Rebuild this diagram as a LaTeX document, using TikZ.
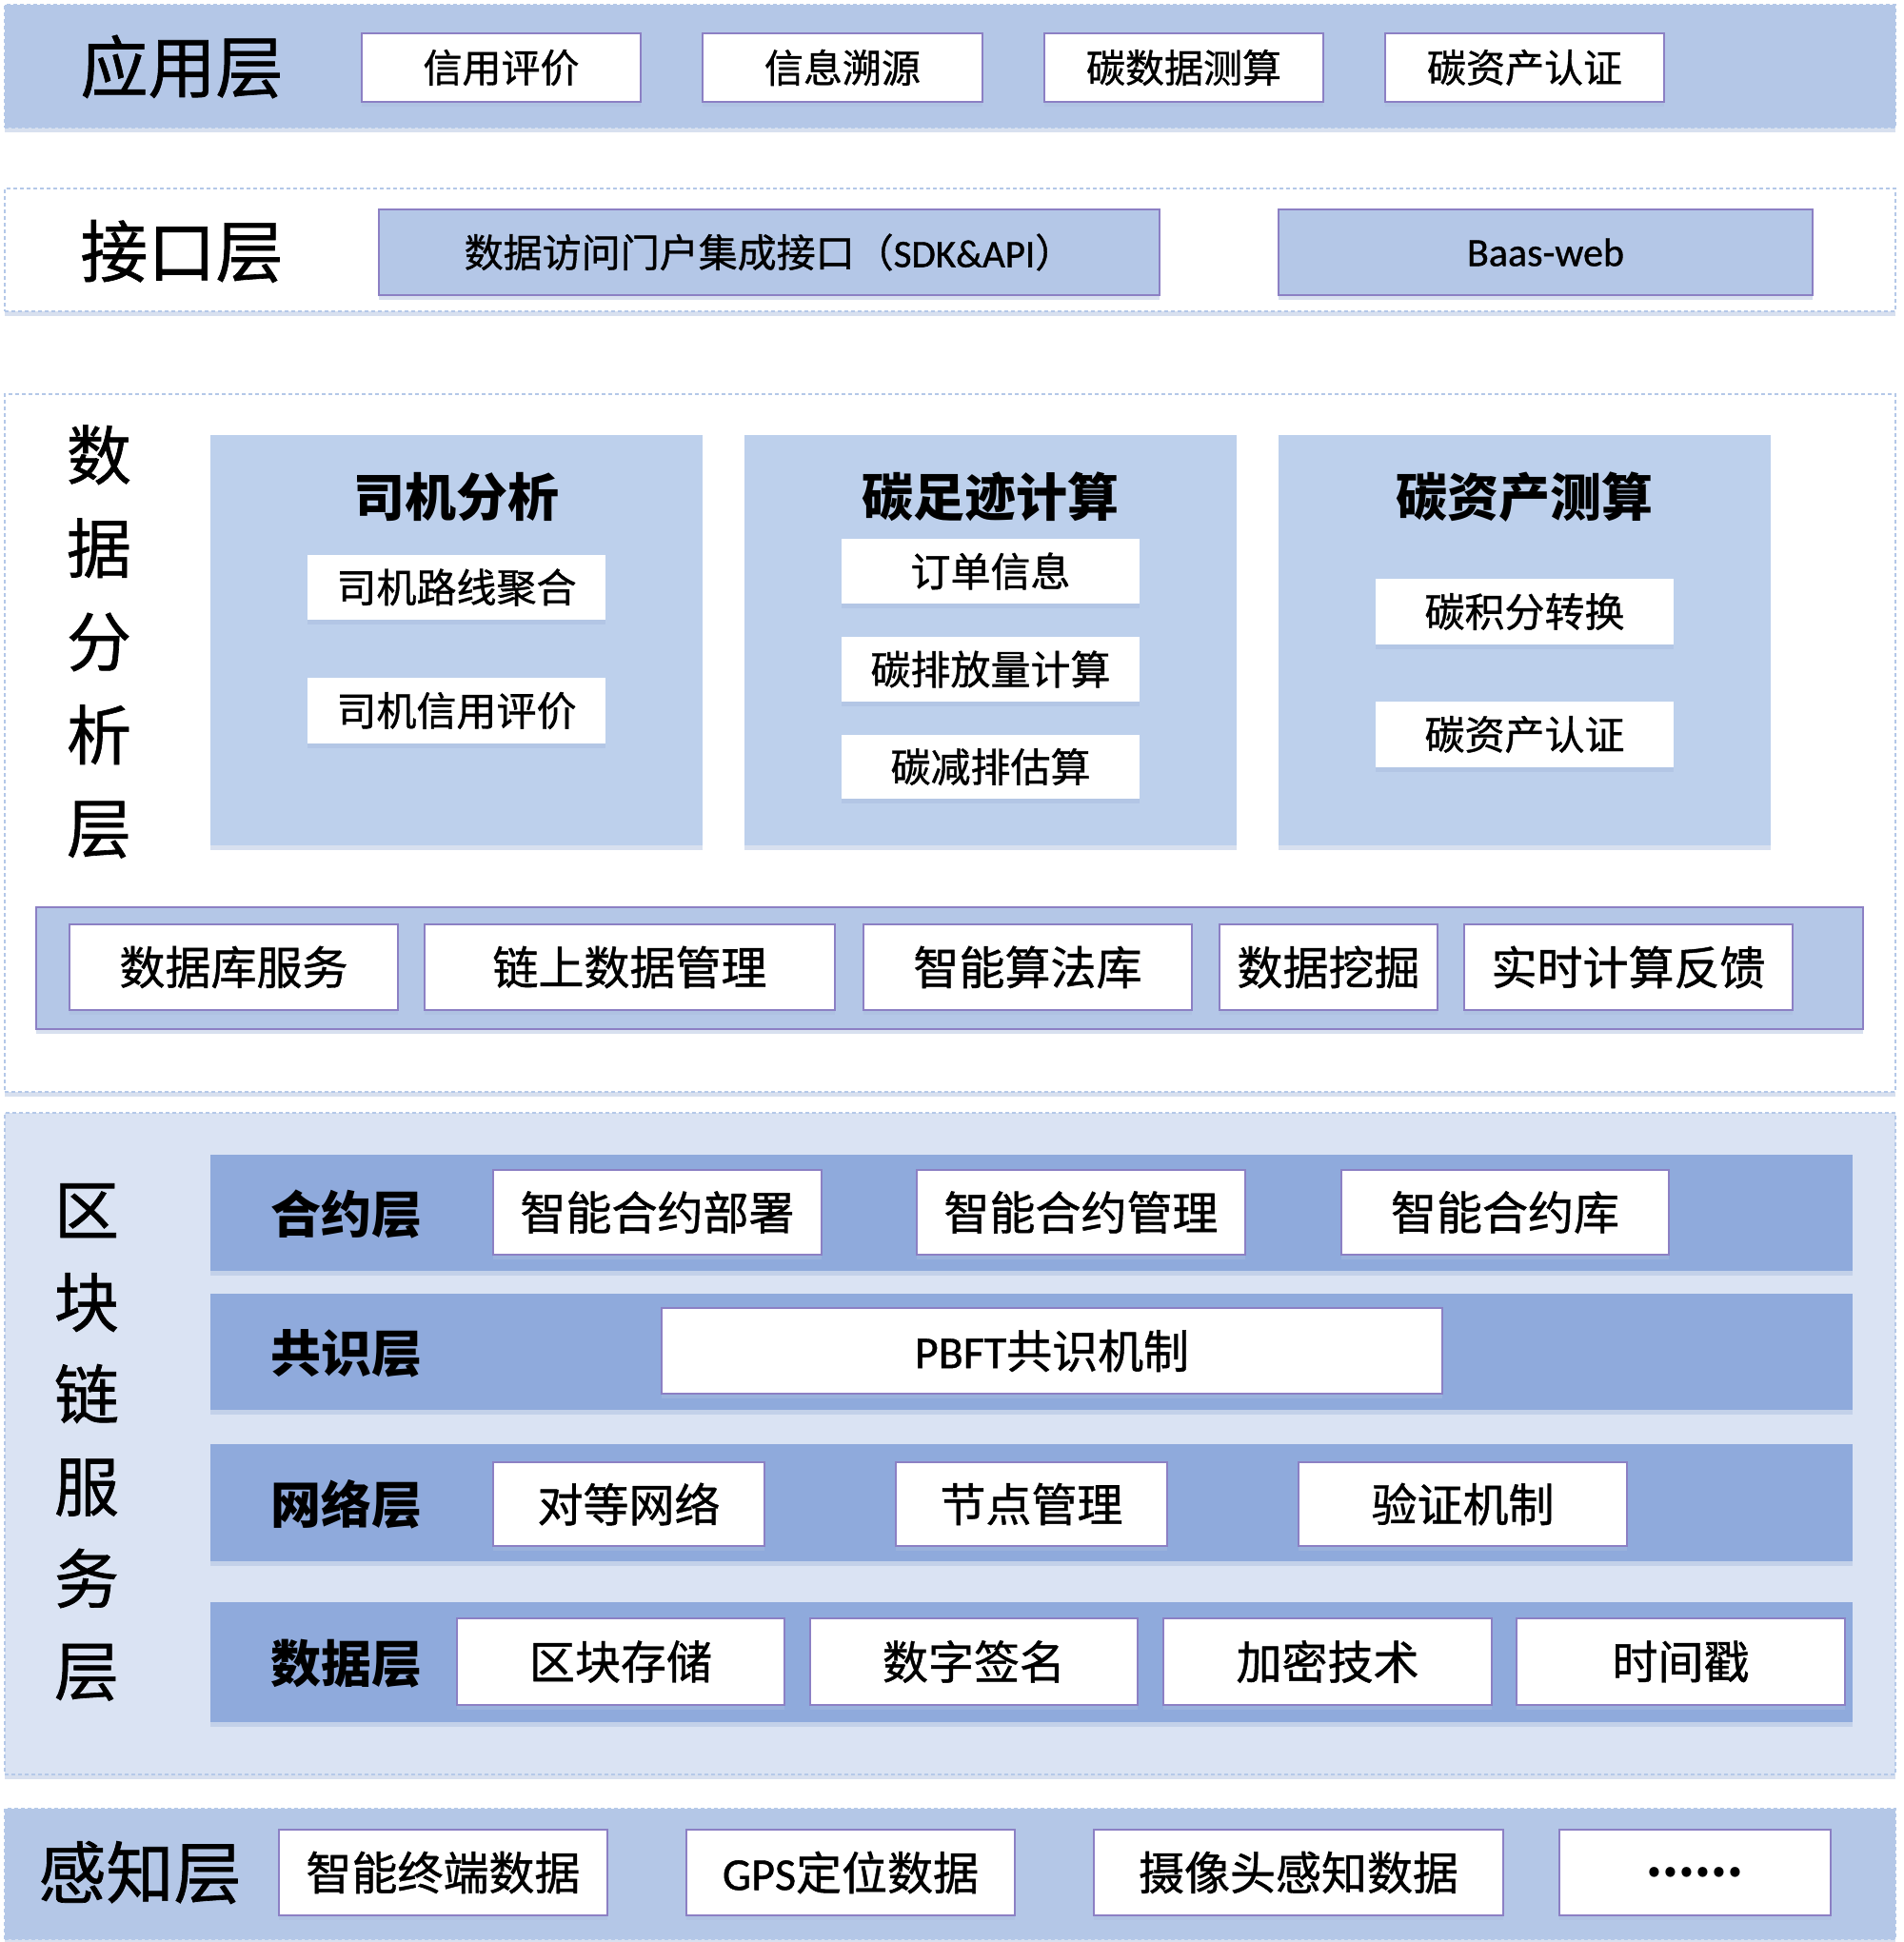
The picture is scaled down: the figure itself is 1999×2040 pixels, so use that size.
\documentclass[tikz,border=0pt]{standalone}
\usepackage{fontspec}
\setmainfont{Noto Sans CJK SC}[UprightFeatures={RawFeature={embolden=0.9}}]
\newfontfamily\lat{Carlito}[UprightFeatures={RawFeature={embolden=0.9}}]
\usetikzlibrary{shadows}
\definecolor{bandblue}{HTML}{B4C7E7}
\definecolor{panelblue}{HTML}{BDD0EC}
\definecolor{chainbg}{HTML}{DAE3F3}
\definecolor{subband}{HTML}{8FAADC}
\definecolor{boxline}{HTML}{8C80C4}
\definecolor{dashline}{HTML}{B4C8E8}
\definecolor{shadowc}{HTML}{A9BCDD}
\newcommand\bx[7]{\node[#1, minimum width={(#4-#2)*0.5pt}, minimum height={(#5-#3)*0.5pt}] (#7) at ({(#2+#4)/2},{(#3+#5)/2}) {#6};}
\tikzset{
  base/.style={inner sep=0pt, outer sep=0pt, align=center, text=black},
  sh/.style={drop shadow={shadow xshift=0pt, shadow yshift=-2.5pt, opacity=0.45, fill=shadowc}},
  layer/.style={base, draw=dashline, dash pattern=on 2pt off 1.5pt, line width=0.6pt, sh},
  whitebox/.style={base, fill=white, draw=boxline, line width=0.6pt, sh},
  plainbox/.style={base, fill=white, sh},
  bluebox/.style={base, fill=bandblue, draw=boxline, line width=0.6pt, sh},
  panel/.style={base, fill=panelblue, sh},
  subbar/.style={base, fill=subband, sh},
  big/.style={font=\fontsize{35.5}{40}\selectfont},
  title/.style={font=\fontsize{27}{32}\bfseries\selectfont},
  sublabel/.style={font=\fontsize{26.5}{30}\bfseries\selectfont},
  f24/.style={font=\fontsize{24}{28}\selectfont},
  f21/.style={font=\fontsize{21}{25}\selectfont},
  f20/.style={font=\fontsize{20.5}{24}\selectfont},
}
\begin{document}
\begin{tikzpicture}[x=0.5pt, y=-0.5pt]
\useasboundingbox[fill=white] (0,0) rectangle (1999,2040);

% ---------- layer backgrounds ----------
\bx{layer, fill=bandblue}{5}{5}{1991}{134}{}{appL}
\bx{layer, fill=white}{5}{198}{1991}{327}{}{ifL}
\bx{layer, fill=white}{5}{414}{1991}{1147}{}{daL}
\bx{layer, fill=chainbg}{5}{1169}{1991}{1864}{}{bcL}
\bx{layer, fill=bandblue}{5}{1900}{1991}{2037}{}{peL}

% ---------- application layer ----------
\node[base, big] (appT) at (191,70) {应用层};
\bx{whitebox, f20}{380}{35}{673}{107}{信用评价}{a1}
\bx{whitebox, f20}{738}{35}{1032}{107}{信息溯源}{a2}
\bx{whitebox, f20}{1097}{35}{1390}{107}{碳数据测算}{a3}
\bx{whitebox, f20}{1455}{35}{1748}{107}{碳资产认证}{a4}

% ---------- interface layer ----------
\node[base, big] (ifT) at (191,264) {接口层};
\bx{bluebox, f20}{398}{220}{1218}{310}{数据访问门户集成接口（{\lat SDK\&API}）}{i1}
\bx{bluebox, font=\fontsize{21}{25}\lat}{1343}{220}{1904}{310}{Baas-web}{i2}

% ---------- data analysis layer ----------
\node[base, font=\fontsize{34}{49}\selectfont] (daT) at (104,674) {数\\据\\分\\析\\层};
\bx{panel}{221}{457}{738}{888}{}{p1}
\bx{panel}{782}{457}{1299}{888}{}{p2}
\bx{panel}{1343}{457}{1860}{888}{}{p3}
\node[base, title] (p1t) at (479.5,522) {司机分析};
\node[base, title] (p2t) at (1040.5,522) {碳足迹计算};
\node[base, title] (p3t) at (1601.5,522) {碳资产测算};
\bx{plainbox, f21}{323}{583}{636}{651}{司机路线聚合}{p1a}
\bx{plainbox, f21}{323}{712}{636}{781}{司机信用评价}{p1b}
\bx{plainbox, f21}{884}{566}{1197}{634}{订单信息}{p2a}
\bx{plainbox, f21}{884}{669}{1197}{737}{碳排放量计算}{p2b}
\bx{plainbox, f21}{884}{772}{1197}{839}{碳减排估算}{p2c}
\bx{plainbox, f21}{1445}{608}{1758}{677}{碳积分转换}{p3a}
\bx{plainbox, f21}{1445}{737}{1758}{806}{碳资产认证}{p3b}

\bx{bluebox}{38}{953}{1957}{1081}{}{svc}
\bx{whitebox, f24}{73}{971}{418}{1061}{数据库服务}{s1}
\bx{whitebox, f24}{446}{971}{877}{1061}{链上数据管理}{s2}
\bx{whitebox, f24}{907}{971}{1252}{1061}{智能算法库}{s3}
\bx{whitebox, f24}{1281}{971}{1510}{1061}{数据挖掘}{s4}
\bx{whitebox, f24}{1538}{971}{1883}{1061}{实时计算反馈}{s5}

% ---------- blockchain service layer ----------
\node[base, font=\fontsize{34}{48.4}\selectfont] (bcT) at (91,1515) {区\\块\\链\\服\\务\\层};

\bx{subbar}{221}{1213}{1946}{1335}{}{b1}
\node[base, sublabel] (b1t) at (364,1276) {合约层};
\bx{whitebox, f24}{518}{1229}{863}{1318}{智能合约部署}{b1a}
\bx{whitebox, f24}{963}{1229}{1308}{1318}{智能合约管理}{b1b}
\bx{whitebox, f24}{1409}{1229}{1753}{1318}{智能合约库}{b1c}

\bx{subbar}{221}{1359}{1946}{1481}{}{b2}
\node[base, sublabel] (b2t) at (364,1422) {共识层};
\bx{whitebox, f24}{695}{1374}{1515}{1464}{{\lat PBFT}共识机制}{b2a}

\bx{subbar}{221}{1517}{1946}{1640}{}{b3}
\node[base, sublabel] (b3t) at (364,1580) {网络层};
\bx{whitebox, f24}{518}{1536}{803}{1624}{对等网络}{b3a}
\bx{whitebox, f24}{941}{1536}{1226}{1624}{节点管理}{b3b}
\bx{whitebox, f24}{1364}{1536}{1709}{1624}{验证机制}{b3c}

\bx{subbar}{221}{1683}{1946}{1809}{}{b4}
\node[base, sublabel] (b4t) at (364,1748) {数据层};
\bx{whitebox, f24}{480}{1700}{824}{1791}{区块存储}{b4a}
\bx{whitebox, f24}{851}{1700}{1195}{1791}{数字签名}{b4b}
\bx{whitebox, f24}{1222}{1700}{1567}{1791}{加密技术}{b4c}
\bx{whitebox, f24}{1593}{1700}{1938}{1791}{时间戳}{b4d}

% ---------- perception layer ----------
\node[base, big] (peT) at (147,1967) {感知层};
\bx{whitebox, f24}{293}{1922}{638}{2012}{智能终端数据}{e1}
\bx{whitebox, f24}{721}{1922}{1066}{2012}{{\lat GPS}定位数据}{e2}
\bx{whitebox, f24}{1149}{1922}{1579}{2012}{摄像头感知数据}{e3}
\bx{whitebox, font=\fontsize{24}{28}\bfseries\selectfont}{1638}{1922}{1923}{2012}{......}{e4}
\end{tikzpicture}
\end{document}
